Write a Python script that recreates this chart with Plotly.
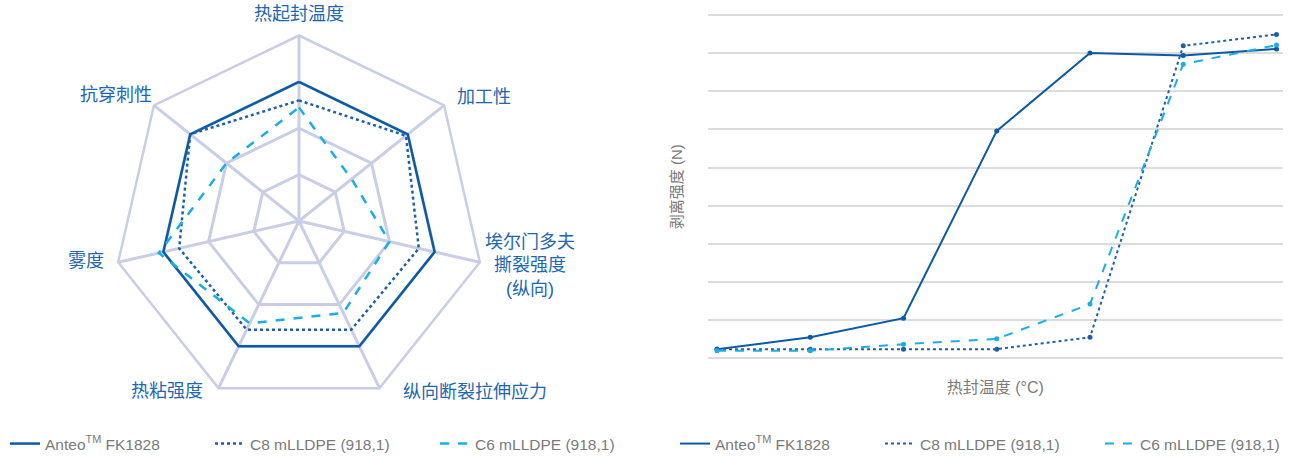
import plotly.graph_objects as go

# ---------------- data ----------------
radar_axes = ["热起封温度", "加工性", "埃尔门多夫<br>撕裂强度<br>(纵向)", "纵向断裂拉伸应力",
              "热粘强度", "雾度", "抗穿刺性"]
radar_anteo = [3.0, 3.0, 3.0, 3.0, 3.0, 3.0, 3.0]
radar_c8 = [2.6, 2.95, 2.65, 2.6, 2.6, 2.65, 3.0]
radar_c6 = [2.45, 1.45, 2.0, 2.2, 2.45, 3.1, 2.0]

seal_points = [1, 2, 3, 4, 5, 6, 7]
peel_anteo = [0.24, 0.55, 1.05, 5.96, 8.0, 7.94, 8.11]
peel_c8 = [0.24, 0.24, 0.24, 0.24, 0.55, 8.19, 8.49]
peel_c6 = [0.2, 0.2, 0.37, 0.51, 1.42, 7.71, 8.21]

series_names = ["Anteo<sup>TM</sup> FK1828", "C8 mLLDPE (918,1)", "C6 mLLDPE (918,1)"]

# ---------------- styles ----------------
W, H = 1290, 460
FONT = "Liberation Sans, Noto Sans CJK SC, sans-serif"
C_DARK = "#0b5aa6"
C_DOT = "#1d5fa8"
C_LIGHT = "#1aaee6"
LABEL_BLUE = "#2266b0"
GRID_RADAR = "#c9cee6"
GRID = "#dcdcdc"
LEG_TXT = "#7a7a7a"

styles = [dict(color=C_DARK, dash="solid"), dict(color=C_DOT, dash="dot"),
          dict(color=C_LIGHT, dash="dash")]

fig = go.Figure()

def close(v):
    return list(v) + [v[0]]

theta = close(radar_axes)
for i, vals in enumerate([radar_anteo, radar_c8, radar_c6]):
    fig.add_trace(go.Scatterpolar(
        r=close(vals), theta=theta, mode="lines", name=series_names[i],
        line=dict(color=styles[i]["color"], dash=styles[i]["dash"], width=2.5),
        legend=["legend", "legend2", "legend3"][i], showlegend=True, hoverinfo="skip"))

for i, vals in enumerate([peel_anteo, peel_c8, peel_c6]):
    fig.add_trace(go.Scatter(
        x=seal_points, y=vals, mode="lines", name=series_names[i],
        line=dict(color=styles[i]["color"], dash=styles[i]["dash"], width=2),
        legend=["legend4", "legend5", "legend6"][i], showlegend=True,
        xaxis="x", yaxis="y"))
    fig.add_trace(go.Scatter(
        x=seal_points, y=vals, mode="markers", name=series_names[i],
        marker=dict(color=styles[i]["color"], size=5),
        showlegend=False, xaxis="x", yaxis="y"))

# polar placement (pixels): centre and radius
cx, cy, rad = 299.0, 221.0, 185.5
polar_dom_x = [(cx - rad) / W, (cx + rad) / W]
polar_dom_y = [(H - cy - rad) / H, (H - cy + rad) / H]

# radar category labels drawn as annotations (pixel anchor, x-anchor)
label_pos = [(299, 14, "center"), (455, 97, "left"), (530, 265, "center"),
             (475, 392, "center"), (167, 391, "center"), (106, 261, "right"),
             (154, 95, "right")]
annotations = []
for txt, (px, py, xa) in zip(radar_axes, label_pos):
    annotations.append(dict(
        text=txt, x=px / W, y=(H - py) / H, xref="paper", yref="paper",
        xanchor=xa, yanchor="middle", showarrow=False, align="center",
        font=dict(family=FONT, size=18, color=LABEL_BLUE)))

leg_common = dict(orientation="h", bgcolor="rgba(0,0,0,0)", borderwidth=0,
                  font=dict(family=FONT, size=15.5, color=LEG_TXT),
                  xanchor="left", yanchor="middle", y=(H - 444) / H, itemwidth=30)
leg_px = [5, 210, 435, 675, 880, 1100]

# right plot area in pixels
px_left, px_right = 707.7, 1283.0
y0_px, unit_px = 358.3, 38.15
y_lo, y_hi = -0.12, 9.12

layout = dict(
    width=W, height=H, margin=dict(l=0, r=0, t=0, b=0, autoexpand=False),
    paper_bgcolor="white", plot_bgcolor="white",
    font=dict(family=FONT, color=LEG_TXT),
    showlegend=True,
    annotations=annotations,
    polar=dict(
        domain=dict(x=polar_dom_x, y=polar_dom_y),
        bgcolor="white", gridshape="linear",
        radialaxis=dict(range=[0, 4], dtick=1, showticklabels=False, ticks="",
                        showline=False, gridcolor=GRID_RADAR, gridwidth=2.5),
        angularaxis=dict(direction="clockwise", rotation=90, categoryorder="array",
                         categoryarray=radar_axes, showticklabels=False,
                         gridcolor=GRID_RADAR, gridwidth=2.5, linecolor=GRID_RADAR,
                         linewidth=2.5, ticks=""),
    ),
    xaxis=dict(domain=[px_left / W, px_right / W], range=[0.9, 7.07], showgrid=False,
               showticklabels=False, zeroline=False, showline=False, ticks="",
               automargin=False,
               title=dict(text="热封温度 (°C)", font=dict(family=FONT, size=16, color=LEG_TXT),
                          standoff=18)),
    yaxis=dict(domain=[(H - (y0_px - y_lo * unit_px)) / H, (H - (y0_px - y_hi * unit_px)) / H],
               range=[y_lo, y_hi], tick0=0, dtick=1,
               showgrid=True, gridcolor=GRID, gridwidth=1.5, showticklabels=False,
               zeroline=False, showline=False, ticks="", automargin=False,
               title=dict(text="剥离强度 (N)", font=dict(family=FONT, size=15, color=LEG_TXT),
                          standoff=20)),
)
for k, name in enumerate(["legend", "legend2", "legend3", "legend4", "legend5", "legend6"]):
    layout[name] = dict(leg_common, x=leg_px[k] / W)

fig.update_layout(**layout)
fig.write_html("out.html", config={"displayModeBar": False},
               post_script="document.body.style.margin='0';")
